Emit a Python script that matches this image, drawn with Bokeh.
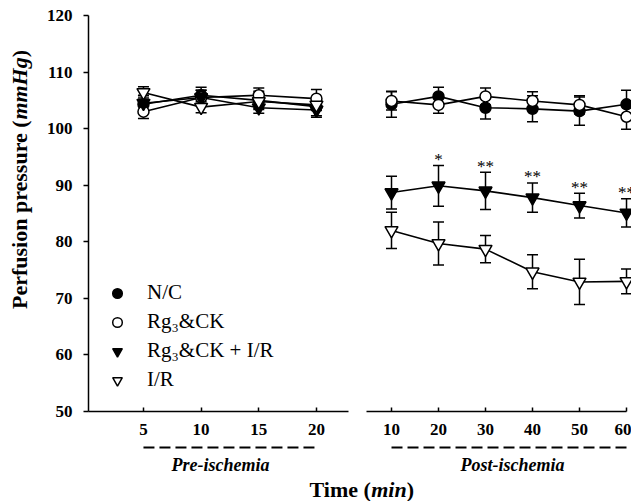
import math
from bokeh.plotting import figure
from bokeh.layouts import row, column
from bokeh.models import (ColumnDataSource, Range1d, FixedTicker, Whisker,
                          TeeHead, Label, Legend, LegendItem)
from bokeh.core.properties import value
from bokeh.embed import file_html
from bokeh.resources import INLINE

# ---------------- data ----------------
time_pre = [5, 10, 15, 20]
time_post = [10, 20, 30, 40, 50, 60]

nc_pre = [104.3, 105.9, 105.0, 103.9]
nc_pre_err = [1.6, 1.4, 1.6, 1.6]
rg_pre = [103.0, 105.5, 105.9, 105.3]
rg_pre_err = [1.2, 1.3, 1.3, 1.6]
rgir_pre = [104.5, 105.5, 103.7, 103.3]
rgir_pre_err = [1.3, 1.3, 1.0, 1.3]
ir_pre = [106.4, 103.8, 104.8, 104.2]
ir_pre_err = [1.0, 1.0, 1.2, 1.0]

nc_post = [104.3, 105.7, 103.7, 103.5, 103.1, 104.3]
nc_post_err = [2.3, 1.6, 2.0, 2.3, 2.5, 2.5]
rg_post = [104.9, 104.2, 105.7, 104.9, 104.2, 102.1]
rg_post_err = [1.6, 1.5, 1.5, 1.6, 1.6, 2.2]
rgir_post = [88.7, 89.9, 89.0, 87.8, 86.4, 85.1]
rgir_post_err = [2.9, 3.6, 3.3, 2.6, 2.2, 2.5]
ir_post = [82.0, 79.7, 78.7, 74.7, 72.9, 73.0]
ir_post_err = [3.2, 3.8, 2.4, 3.0, 4.0, 2.2]

signif_post = ["", "*", "**", "**", "**", "**"]

series_names = ["N/C", "Rg\u2083&CK", "Rg\u2083&CK + I/R", "I/R"]
y_ticks = [50, 60, 70, 80, 90, 100, 110, 120]
phase_names = ["Pre-ischemia", "Post-ischemia"]

SERIF = "Liberation Serif"

styles = [("circle", "black", 11), ("circle", "white", 11),
          ("inverted_triangle", "black", 13), ("inverted_triangle", "white", 13)]

ROW_H = 444
DASH_H = 32
TITLE_H = 25
W_Y = 40
W_L = 320
W_R = 271

pre_range = Range1d(0.234, 22.78)
post_range = Range1d(4.68, 61.06)


def make_src(t, m, e):
    return ColumnDataSource(dict(t=t, m=m, lo=[a - b for a, b in zip(m, e)],
                                 hi=[a + b for a, b in zip(m, e)]))


def style_common(p):
    p.outline_line_color = None
    p.background_fill_color = "white"
    p.border_fill_color = "white"
    for g in p.grid:
        g.visible = False


def draw_series(p, t, means, errs):
    rends = []
    for m, e in zip(means, errs):
        src = make_src(t, m, e)
        w = Whisker(base="t", lower="lo", upper="hi", source=src, level="underlay",
                    line_color="black", line_width=1.5,
                    upper_head=TeeHead(size=11, line_width=1.5, line_color="black"),
                    lower_head=TeeHead(size=11, line_width=1.5, line_color="black"))
        p.add_layout(w)
        p.line("t", "m", source=src, line_color="black", line_width=1.6)
    for (mk, fill, sz), m, e in zip(styles, means, errs):
        src = make_src(t, m, e)
        r = p.scatter("t", "m", source=src, marker=mk, size=sz, fill_color=fill,
                      line_color="black", line_width=1.5)
        rends.append(r)
    return rends


def style_xaxis(p, ticks):
    ax = p.xaxis[0]
    ax.ticker = FixedTicker(ticks=ticks)
    ax.axis_line_width = 1.5
    ax.major_tick_in = 4
    ax.major_tick_out = 0
    ax.major_tick_line_width = 1.5
    ax.minor_tick_line_color = None
    ax.major_label_standoff = 12
    ax.major_label_text_font = SERIF
    ax.major_label_text_font_style = "bold"
    ax.major_label_text_font_size = "17px"
    ax.major_label_text_color = "black"


# ---------------- y title strip ----------------
ystrip = figure(width=W_Y, height=ROW_H, output_backend="svg", toolbar_location=None,
                x_axis_location=None, y_axis_location=None,
                x_range=Range1d(0, 1), y_range=Range1d(0, 1),
                min_border_left=0, min_border_right=0, min_border_top=0, min_border_bottom=0)
style_common(ystrip)
for txt, yy, st in [("Perfusion pressure (", 102.5, "bold"),
                    ("mmHg", 291.9, "bold italic"),
                    (")", 354.2, "bold")]:
    ystrip.add_layout(Label(x=19, y=yy, x_units="screen", y_units="screen", text=txt,
                            angle=math.pi / 2, text_align="left", text_baseline="middle",
                            text_font=SERIF, text_font_style=st, text_font_size="22px",
                            text_color="black"))

# ---------------- left figure (pre-ischemia) ----------------
left = figure(width=W_L, height=ROW_H, output_backend="svg", toolbar_location=None,
              x_range=pre_range, y_range=Range1d(50, 120),
              min_border_left=48, min_border_right=12, min_border_top=15,
              min_border_bottom=33)
style_common(left)
pre_r = draw_series(left, time_pre, [nc_pre, rg_pre, rgir_pre, ir_pre],
                    [nc_pre_err, rg_pre_err, rgir_pre_err, ir_pre_err])
style_xaxis(left, time_pre)

ya = left.yaxis[0]
ya.ticker = FixedTicker(ticks=y_ticks)
ya.axis_line_width = 1.5
ya.major_tick_out = 5
ya.major_tick_in = 0
ya.major_tick_line_width = 1.5
ya.minor_tick_line_color = None
ya.major_label_standoff = 11
ya.major_label_text_font = SERIF
ya.major_label_text_font_style = "bold"
ya.major_label_text_font_size = "17px"
ya.major_label_text_color = "black"

legend = Legend(items=[LegendItem(label=n, renderers=[r]) for n, r in zip(series_names, pre_r)],
                location=(17, 19), orientation="vertical", glyph_width=24, glyph_height=24,
                spacing=4, label_standoff=18, padding=0, margin=0,
                border_line_color=None, background_fill_alpha=0,
                label_text_font=SERIF, label_text_font_size="21px", label_text_color="black")
left.add_layout(legend)

# ---------------- right figure (post-ischemia) ----------------
right = figure(width=W_R, height=ROW_H, output_backend="svg", toolbar_location=None,
               x_range=post_range, y_range=Range1d(50, 120),
               y_axis_location=None,
               min_border_left=6, min_border_right=0, min_border_top=15,
               min_border_bottom=33)
style_common(right)
post_r = draw_series(right, time_post, [nc_post, rg_post, rgir_post, ir_post],
                     [nc_post_err, rg_post_err, rgir_post_err, ir_post_err])
style_xaxis(right, time_post)
right.xaxis[0].bounds = (4.68, 60)

star_src = ColumnDataSource(dict(t=time_post,
                                 y=[a + b for a, b in zip(rgir_post, rgir_post_err)],
                                 s=signif_post))
right.text("t", "y", text="s", source=star_src, text_align="center",
           text_baseline="alphabetic", y_offset=-6, text_font=value(SERIF),
           text_font_size="17px", text_color="black")

# ---------------- phase strips (dashed bars + names) ----------------
def phase_strip(width, xr, bl, br, times, name, label_x):
    s = figure(width=width, height=DASH_H, output_backend="svg", toolbar_location=None,
               x_axis_location=None, y_axis_location=None,
               x_range=xr, y_range=Range1d(0, DASH_H),
               min_border_left=bl, min_border_right=br, min_border_top=0, min_border_bottom=0)
    style_common(s)
    s.segment(x0=[min(times)], x1=[max(times)], y0=[DASH_H - 3], y1=[DASH_H - 3],
              line_color="black", line_width=2.2, line_dash="11 5")
    s.add_layout(Label(x=label_x, y=12, x_units="screen", y_units="screen", text=name,
                       text_align="center", text_baseline="middle",
                       text_font=SERIF, text_font_style="bold italic", text_font_size="18px",
                       text_color="black"))
    return s


dash_blank = figure(width=W_Y, height=DASH_H, output_backend="svg", toolbar_location=None,
                    x_axis_location=None, y_axis_location=None,
                    min_border_left=0, min_border_right=0, min_border_top=0, min_border_bottom=0)
style_common(dash_blank)
dash_left = phase_strip(W_L, pre_range, 48, 12, time_pre, phase_names[0], 132)
dash_right = phase_strip(W_R, post_range, 6, 0, time_post, phase_names[1], 146)

# ---------------- x-axis title strip ----------------
xstrip = figure(width=W_Y + W_L + W_R, height=TITLE_H, output_backend="svg",
                toolbar_location=None, x_axis_location=None, y_axis_location=None,
                x_range=Range1d(0, 1), y_range=Range1d(0, 1),
                min_border_left=0, min_border_right=0, min_border_top=0, min_border_bottom=0)
style_common(xstrip)
for txt, xx, st in [("Time (", 309, "bold"), ("min", 370.7, "bold italic"), (")", 406.2, "bold")]:
    xstrip.add_layout(Label(x=xx, y=12, x_units="screen", y_units="screen", text=txt,
                            text_align="left", text_baseline="middle",
                            text_font=SERIF, text_font_style=st, text_font_size="22px",
                            text_color="black"))

layout = column(row(ystrip, left, right, spacing=0),
                row(dash_blank, dash_left, dash_right, spacing=0),
                xstrip, spacing=0)

with open("out.html", "w") as f:
    f.write(file_html(layout, INLINE))
